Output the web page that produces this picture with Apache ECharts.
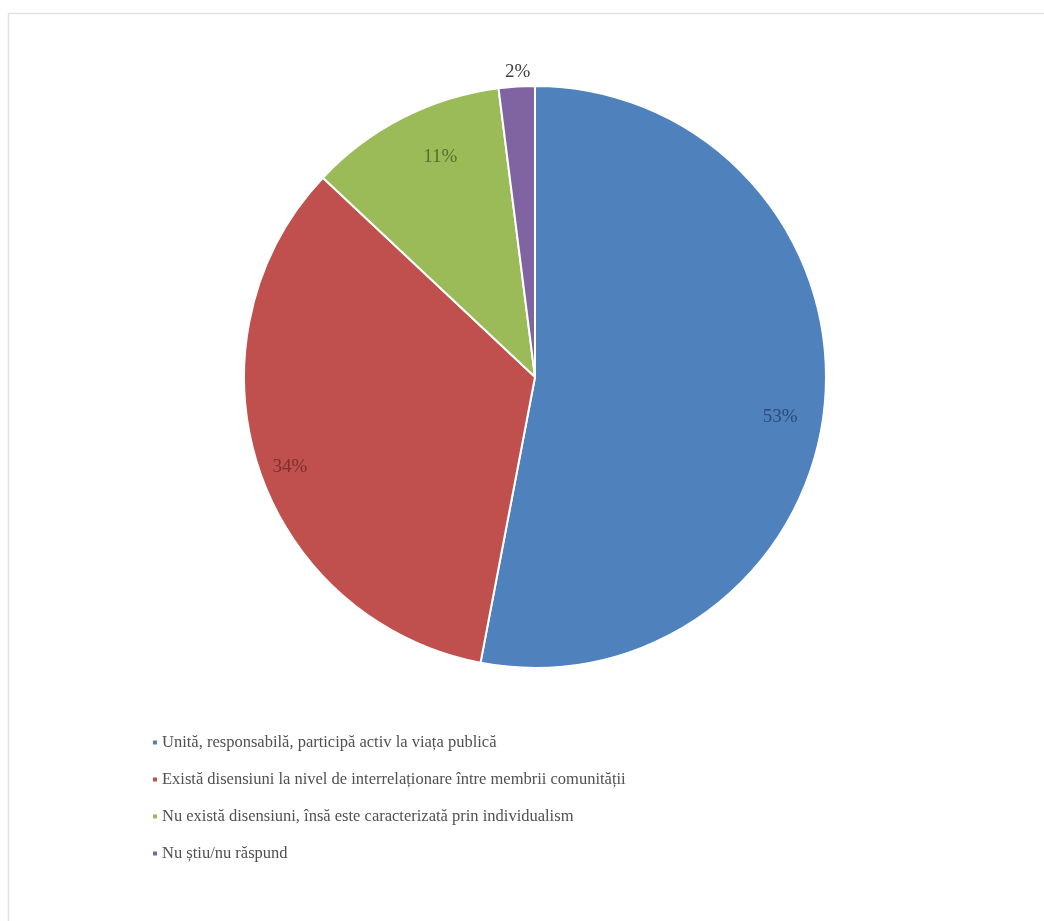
<!DOCTYPE html>
<html><head><meta charset="utf-8">
<script src="https://cdn.jsdelivr.net/npm/echarts@6/dist/echarts.min.js"></script>
<style>html,body{margin:0;padding:0;background:#fff}#c{width:1044px;height:921px}</style>
</head><body><div id="c"></div>
<script>
const categories = [
  'Unită, responsabilă, participă activ la viața publică',
  'Există disensiuni la nivel de interrelaționare între membrii comunității',
  'Nu există disensiuni, însă este caracterizată prin individualism',
  'Nu știu/nu răspund'
];
const values = [53, 34, 11, 2];
const colors = ['#4F81BD', '#C0504D', '#9BBB59', '#8064A2'];
const labelColors = ['#2b4a78', '#7c2f2d', '#56702e', '#404040'];

const R = 291;
const labelNudge = [[-4, 16], [-7, 13], [19, 3], [0, 0]];
const chart = echarts.init(document.getElementById('c'));
const mainData = categories.map((n, i) => ({ name: n, value: values[i], itemStyle: { color: colors[i] } }));
const labelData = categories.map((n, i) => ({
  name: n, value: values[i],
  label: i === 3
    ? { position: 'outside', color: labelColors[i], distance: 2 }
    : { position: 'inside', color: labelColors[i] }
}));
chart.setOption({
  animation: false,
  graphic: [{ type: 'rect', shape: { x: 8.5, y: 13.5, width: 1100, height: 1000 }, style: { fill: 'none', stroke: '#e3e3e3', lineWidth: 1.5 }, silent: true }],
  legend: {
    orient: 'vertical', left: 146, top: 729,
    itemWidth: 6, itemHeight: 6, itemGap: 20, icon: 'rect',
    textStyle: { fontFamily: 'Liberation Serif', fontSize: 16.5, color: '#505050', padding: [0, 0, 0, -1] },
    data: categories
  },
  series: [
    {
      type: 'pie', center: [535, 377], radius: [0, R], startAngle: 90, clockwise: true,
      label: { show: false }, labelLine: { show: false },
      itemStyle: { borderColor: '#fff', borderWidth: 2 },
      data: mainData
    },
    {
      type: 'pie', center: [535, 377], radius: [R * 0.7, R], startAngle: 90, clockwise: true,
      silent: true, legendHoverLink: false,
      itemStyle: { color: 'rgba(0,0,0,0)' },
      label: { show: true, formatter: '{c}%', fontFamily: 'Liberation Serif', fontSize: 19 },
      labelLine: { show: false, length: 0, length2: 0 },
      labelLayout: function (p) {
        const n = labelNudge[p.dataIndex];
        if (p.dataIndex === 3) return { align: 'center', verticalAlign: 'middle', dx: 6, dy: -15 };
        return { dx: n[0], dy: n[1] };
      },
      emphasis: { disabled: true },
      data: labelData
    }
  ]
});
</script></body></html>
